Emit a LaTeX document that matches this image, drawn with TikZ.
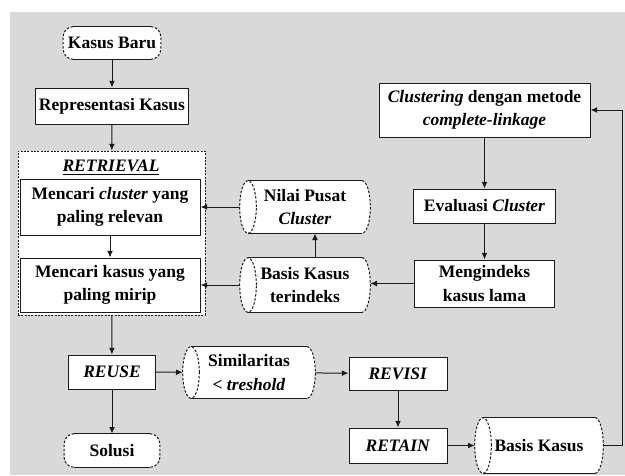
\documentclass[tikz,border=0pt]{standalone}
\usepackage{fontspec}
\setmainfont{Liberation Serif}
\usetikzlibrary{arrows.meta,calc}
\definecolor{bg}{HTML}{D9D9D9}
\definecolor{ln}{HTML}{1A1A1A}
\tikzset{
  sz/.style 2 args={minimum width=#1*0.6pt, minimum height=#2*0.6pt},
  box/.style={draw=ln, fill=white, line width=0.6pt, inner sep=1pt, align=center},
  plain/.style={draw=none, inner sep=1pt, align=center},
  arr/.style={draw=ln, line width=0.6pt, -{Latex[length=4pt,width=3.5pt]}},
}
\newcommand\mycyl[1]{%
  \path let \p1=(#1.north west), \p2=(#1.south east), \n1={(\y1-\y2)/2} in
    [fill=white] (\x1+5pt,\y1) -- (\x2-5pt,\y1)
      arc[start angle=90,end angle=-90,x radius=5pt,y radius=\n1]
      -- (\x1+5pt,\y2)
      arc[start angle=270,end angle=90,x radius=5pt,y radius=\n1] -- cycle;
  \draw[ln, line width=0.7pt] let \p1=(#1.north west), \p2=(#1.south east) in
    (\x1+5pt,\y1) -- (\x2-5pt,\y1) (\x1+5pt,\y2) -- (\x2-5pt,\y2);
  \draw[ln, line width=0.6pt, dash pattern=on 1.5pt off 1pt] let \p1=(#1.north west), \p2=(#1.south east), \n1={(\y1-\y2)/2} in
    (\x2-5pt,\y1) arc[start angle=90,end angle=-90,x radius=5pt,y radius=\n1]
    (\x1+5pt,{(\y1+\y2)/2}) ellipse[x radius=5pt,y radius=\n1];
}
\newcommand\myterm[1]{%
  \path let \p1=(#1.north west), \p2=(#1.south east) in
    [fill=white, rounded corners=6pt] (\x1,\y1) rectangle (\x2,\y2);
  \draw[ln, line width=0.7pt] let \p1=(#1.north west), \p2=(#1.south east) in
    (\x1+6pt,\y1) -- (\x2-6pt,\y1) (\x1+6pt,\y2) -- (\x2-6pt,\y2);
  \draw[ln, line width=0.6pt, dash pattern=on 1.5pt off 1pt] let \p1=(#1.north west), \p2=(#1.south east) in
    (\x2-6pt,\y1) arc[start angle=90,end angle=0,radius=6pt] -- (\x2,\y2+6pt) arc[start angle=0,end angle=-90,radius=6pt]
    (\x1+6pt,\y1) arc[start angle=90,end angle=180,radius=6pt] -- (\x1,\y2+6pt) arc[start angle=180,end angle=270,radius=6pt];
}
\begin{document}
\begin{tikzpicture}[x=0.6pt,y=0.6pt, font=\fontsize{10.5}{14}\selectfont\bfseries]
\useasboundingbox (0,0) rectangle (625,-475);
\fill[bg] (10,-12) rectangle (625,-475);

% RETRIEVAL group
\node[draw=ln, fill=white, line width=0.6pt, dash pattern=on 1.2pt off 0.8pt, sz={187}{164}] (retr) at (111.5,-233) {};
\node[plain] (retrl) at (111,-168) {\underline{\textit{RETRIEVAL}}};
\node[box, sz={180}{56}] (mc) at (110,-207) {Mencari \textit{cluster} yang\\paling relevan};
\node[box, sz={180}{54}] (mk) at (110,-285) {Mencari kasus yang\\paling mirip};

% left column
\node[plain, sz={97}{32}] (kb) at (112,-43) {};
\myterm{kb}
\node[plain] at (kb) {Kasus Baru};
\node[box, sz={153}{36}] (rep) at (112,-106) {Representasi Kasus};
\node[box, sz={87}{34}] (reuse) at (112,-372) {\textit{REUSE}};
\node[plain, sz={95}{33}] (sol) at (112,-450.5) {};
\myterm{sol}
\node[plain] at (sol) {Solusi};

% cylinders
\node[plain, sz={130}{52}] (npc) at (305,-207) {};
\mycyl{npc}
\node[plain] at (npc) {Nilai Pusat\\\textit{Cluster}};
\node[plain, sz={130}{54}] (bkt) at (305,-285) {};
\mycyl{bkt}
\node[plain] at (bkt) {Basis Kasus\\terindeks};
\node[plain, sz={132}{51}] (sim) at (249,-372.5) {};
\mycyl{sim}
\node[plain] at (sim) {Similaritas\\\textless{} \textit{treshold}};
\node[plain, sz={128}{55}] (bk) at (539,-445.5) {};
\mycyl{bk}
\node[plain] at (bk) {Basis Kasus};

% right column
\node[box, sz={211}{54}] (cl) at (484.5,-110) {\textit{Clustering} dengan metode\\\textit{complete-linkage}};
\node[box, sz={142}{34}] (ev) at (484.5,-206) {Evaluasi \textit{Cluster}};
\node[box, sz={140}{47}] (mi) at (484.5,-283.5) {Mengindeks\\kasus lama};
\node[box, sz={98}{33}] (rev) at (398,-373.5) {\textit{REVISI}};
\node[box, sz={98}{35}] (ret) at (398,-445.5) {\textit{RETAIN}};

\coordinate (rc) at (622,-445.5);

% connectors
\draw[arr] (kb) -- (rep);
\draw[arr] (rep) -- (retr);
\draw[arr] (mc) -- (mk);
\draw[arr] (retr) -- (reuse);
\draw[arr] (reuse) -- (sol);
\draw[arr] (reuse) -- (sim);
\draw[arr] (sim) -- (rev);
\draw[arr] (rev) -- (ret);
\draw[arr] (ret) -- (bk);
\draw[arr] (bk.east) -- (rc) |- (cl.east);
\draw[arr] (cl) -- (ev);
\draw[arr] (ev) -- (mi);
\draw[arr] (mi.west) -- (bkt.east |- mi.west);
\draw[arr] (npc.west) -- (mc.east);
\draw[arr] (bkt.west) -- (mk.east);
\draw[arr] ([xshift=6pt]bkt.north) -- ([xshift=6pt]npc.south);
\end{tikzpicture}
\end{document}
